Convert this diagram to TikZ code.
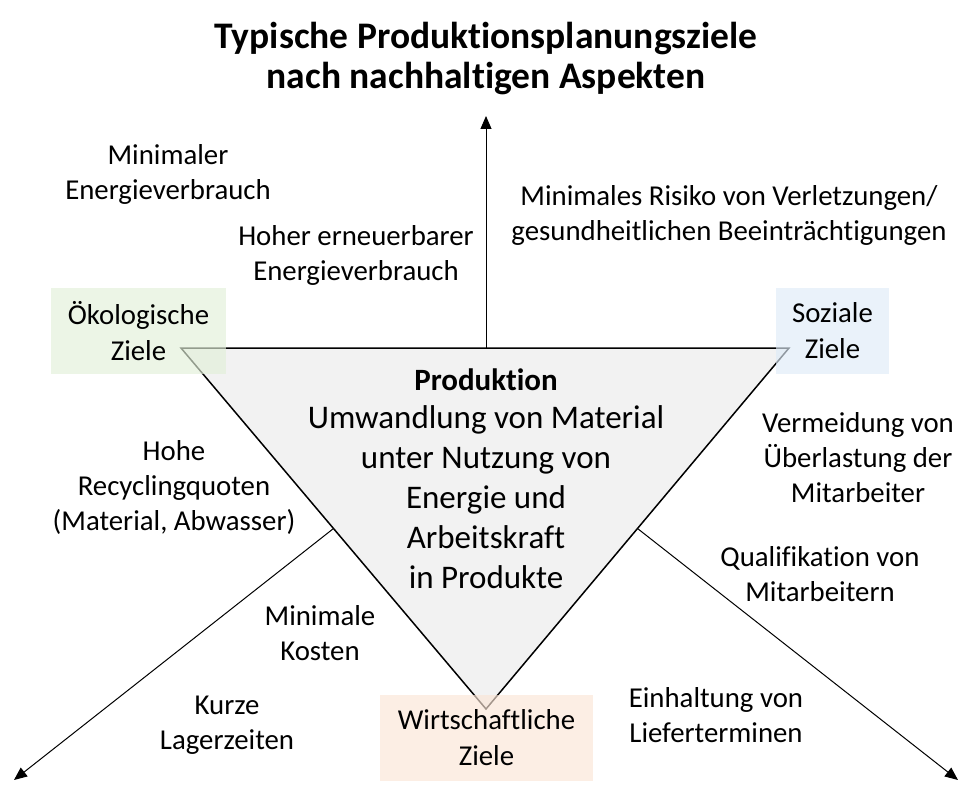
\documentclass[tikz,border=0pt]{standalone}
\usepackage{fontspec}
\setmainfont{Carlito}[Ligatures=NoCommon]
\usetikzlibrary{arrows.meta}
\definecolor{tri}{HTML}{F2F2F2}
\definecolor{gbox}{HTML}{E2F0D9}
\definecolor{bbox}{HTML}{DEEBF7}
\definecolor{obox}{HTML}{FBE5D6}
\tikzset{
  lbl/.style={align=center, inner sep=0pt, font=\fontsize{28.8}{35}\selectfont},
  zbox/.style={minimum width=#1, minimum height=86pt, inner sep=0pt, opacity=0.65, text opacity=1, align=center, font=\fontsize{28.8}{36}\selectfont},
  arr/.style={line width=1pt, -{Triangle[length=13pt,width=11pt]}},
}
\begin{document}
\begin{tikzpicture}[x=1pt,y=-1pt]
\useasboundingbox (0,0) rectangle (977,794);
% triangle
\coordinate (TL) at (181,348);
\coordinate (TR) at (789,348);
\coordinate (B) at (486,709);
\coordinate (TM) at (486,348);
\coordinate (LM) at (333.5,528.5);
\coordinate (RM) at (637.5,528.5);
\coordinate (UP) at (486,116);
\coordinate (DL) at (14,780);
\coordinate (DR) at (958,780);
\draw[fill=tri, line width=1.5pt] (TL) -- (TR) -- (B) -- cycle;
\draw[arr] (TM) -- (UP);
\draw[arr] (LM) -- (DL);
\draw[arr] (RM) -- (DR);
% boxes
\node[zbox=175pt, fill=gbox] (oek) at (138.5,331) {Ökologische\\Ziele};
\node[zbox=113pt, fill=bbox] (soz) at (832.5,331) {Soziale\\Ziele};
\node[zbox=213pt, fill=obox] (wir) at (486.5,737.5) {Wirtschaftliche\\Ziele};
% title
\node[align=center, inner sep=0pt, font=\fontsize{37.5}{40}\selectfont\bfseries] (title) at (486,59) {Typische Produktionsplanungsziele\\nach nachhaltigen Aspekten};
% center text
\node[inner sep=0pt, font=\fontsize{31}{34}\selectfont\bfseries] (prodh) at (486,380) {Produktion};
\node[align=center, inner sep=0pt, font=\fontsize{33}{40}\selectfont] (prod) at (486,497) {Umwandlung von Material\\unter Nutzung von\\Energie und\\Arbeitskraft\\in Produkte};
% labels
\node[lbl] (l1) at (168,174) {Minimaler\\Energieverbrauch};
\node[lbl] (l2) at (356,255) {Hoher erneuerbarer\\Energieverbrauch};
\node[lbl] (l3) at (729,215) {Minimales Risiko von Verletzungen/\\gesundheitlichen Beeinträchtigungen};
\node[lbl] (l4) at (174,487) {Hohe\\Recyclingquoten\\(Material, Abwasser)};
\node[lbl] (l5) at (858,458) {Vermeidung von\\Überlastung der\\Mitarbeiter};
\node[lbl] (l6) at (820,574) {Qualifikation von\\Mitarbeitern};
\node[lbl] (l7) at (320,633) {Minimale\\Kosten};
\node[lbl] (l8) at (227,725) {Kurze\\Lagerzeiten};
\node[lbl] (l9) at (716,715) {Einhaltung von\\Lieferterminen};
\end{tikzpicture}
\end{document}
